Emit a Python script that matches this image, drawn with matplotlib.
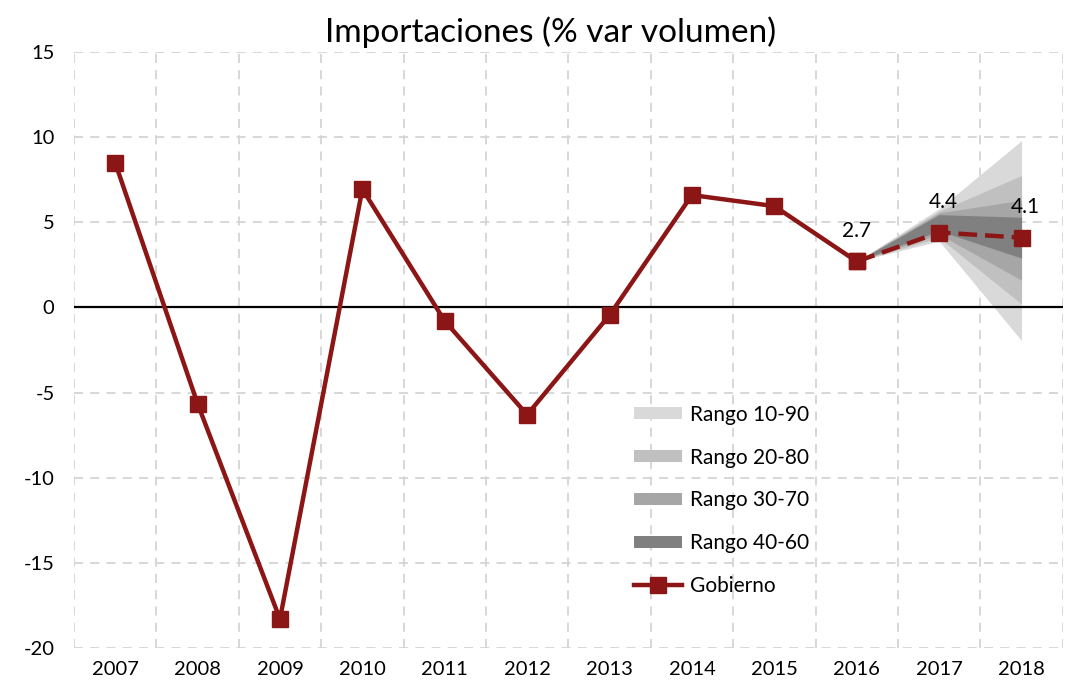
import matplotlib
matplotlib.use("Agg")
import matplotlib.pyplot as plt
import numpy as np
from matplotlib.patches import Patch
from matplotlib.lines import Line2D

years = ["2007", "2008", "2009", "2010", "2011", "2012", "2013", "2014",
         "2015", "2016", "2017", "2018"]
gobierno = [8.5, -5.65, -18.3, 6.95, -0.8, -6.3, -0.45, 6.6, 5.95, 2.7, 4.4, 4.1]

# fan chart bands (2016, 2017, 2018)
fan_years_idx = [9, 10, 11]
r10_90_lo = [2.7, 3.9, -1.95]
r10_90_hi = [2.7, 5.8, 9.8]
r20_80_lo = [2.7, 4.1, 0.2]
r20_80_hi = [2.7, 5.65, 7.75]
r30_70_lo = [2.7, 4.3, 1.6]
r30_70_hi = [2.7, 5.55, 6.3]
r40_60_lo = [2.7, 4.5, 2.9]
r40_60_hi = [2.7, 5.45, 5.3]

band_labels = ["Rango 10-90", "Rango 20-80", "Rango 30-70", "Rango 40-60"]
band_colors = ["#d9d9d9", "#c0c0c0", "#a6a6a6", "#808080"]
line_color = "#8c1515"

plt.rcParams['font.family'] = ['Lato', 'DejaVu Sans']
plt.rcParams['axes.unicode_minus'] = False

fig = plt.figure(figsize=(10.83, 6.89), dpi=100)
ax = fig.add_axes([0.0683, 0.0595, 0.913, 0.865])

x = np.arange(len(years))

bands = [(r10_90_lo, r10_90_hi), (r20_80_lo, r20_80_hi),
         (r30_70_lo, r30_70_hi), (r40_60_lo, r40_60_hi)]
for (lo, hi), c in zip(bands, band_colors):
    ax.fill_between(fan_years_idx, lo, hi, color=c, linewidth=0, zorder=2)

ax.axhline(0, color="black", linewidth=1.6, zorder=3)

ax.plot(x[:10], gobierno[:10], color=line_color, linewidth=3.2,
        marker="s", markersize=11, zorder=5)
ax.plot(x[9:], gobierno[9:], color=line_color, linewidth=3.2, linestyle=(0, (4.2, 1.8)),
        marker="s", markersize=11, zorder=5)

# data labels
ax.text(9, 2.7 + 1.2, "2.7", ha="center", va="bottom", fontsize=15)
ax.text(10.05, 4.4 + 1.2, "4.4", ha="center", va="bottom", fontsize=15)
ax.text(11.05, 4.1 + 1.2, "4.1", ha="center", va="bottom", fontsize=15)

ax.set_xlim(-0.5, 11.5)
ax.set_ylim(-20, 15)
ax.set_yticks([15, 10, 5, 0, -5, -10, -15, -20])
ax.set_xticks(x)
ax.set_xticklabels(years)
ax.set_xticks(np.arange(-0.5, 12, 1), minor=True)
ax.tick_params(axis="both", which="both", length=0, labelsize=14.5)
ax.tick_params(axis="x", pad=9)
ax.tick_params(axis="y", pad=14)
for lab in ax.get_yticklabels():
    lab.set_horizontalalignment("right")

ax.grid(True, axis="y", which="major", color="#d4d4d4", linestyle=(0, (5, 4)), linewidth=1.3)
ax.grid(True, axis="x", which="minor", color="#d4d4d4", linestyle=(0, (5, 4)), linewidth=1.3)
ax.grid(False, axis="x", which="major")
ax.set_axisbelow(True)
for s in ax.spines.values():
    s.set_visible(False)

ax.set_title("Importaciones (% var volumen)", fontsize=24, pad=7, x=0.482)

handles = [Patch(facecolor=c, edgecolor="none") for c in band_colors]
handles.append(Line2D([0], [0], color=line_color, linewidth=3.2, marker="s", markersize=11))
labels = band_labels + ["Gobierno"]
leg = fig.legend(handles, labels, loc="upper left", bbox_to_anchor=(0.568, 0.44),
                 frameon=False, fontsize=15, handlelength=2.3, handleheight=0.55,
                 labelspacing=1.1, handletextpad=0.4)

fig.savefig("out.png", dpi=100)
